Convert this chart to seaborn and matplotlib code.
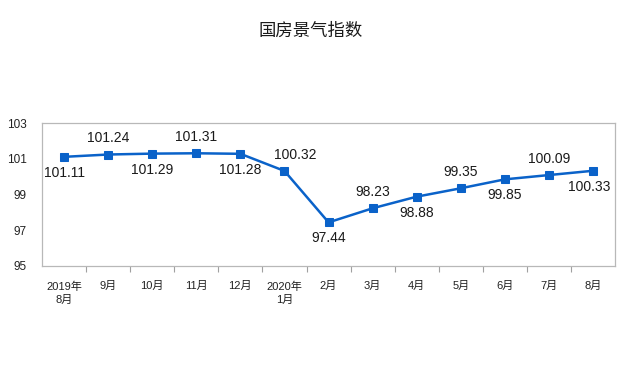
import matplotlib
matplotlib.use("Agg")
import matplotlib.pyplot as plt
import seaborn as sns
import pandas as pd


months = ["2019年\n8月", "9月", "10月", "11月", "12月", "2020年\n1月", "2月",
          "3月", "4月", "5月", "6月", "7月", "8月"]
index_values = [101.11, 101.24, 101.29, 101.31, 101.28, 100.32, 97.44,
                98.23, 98.88, 99.35, 99.85, 100.09, 100.33]
# label above (+1) or below (-1) the point
label_side = [-1, 1, -1, 1, -1, 1, -1, 1, -1, 1, -1, 1, -1]
y_ticks = [95, 97, 99, 101, 103]

sns.set_theme(style="white")
plt.rcParams['font.family'] = ['Liberation Sans', 'Noto Sans CJK SC', 'DejaVu Sans']

df = pd.DataFrame({"month": months, "value": index_values})

fig = plt.figure(figsize=(6.25, 3.73), dpi=100)
ax = fig.add_axes([0.0672, 0.287, 0.917, 0.383])

line_color = "#0a62c9"
sns.lineplot(data=df, x="month", y="value", ax=ax, color=line_color,
             linewidth=1.8, marker="s", markersize=5.5,
             markeredgecolor=line_color, sort=False)

# small horizontal nudges for a few labels (points)
nudge = {5: 8, 12: -3}
for i, (v, side) in enumerate(zip(index_values, label_side)):
    off = 6.5 if side > 0 else -6.5
    ax.annotate(f"{v:.2f}", xy=(i, v), xytext=(nudge.get(i, 0), off),
                textcoords="offset points",
                ha="center", va="bottom" if side > 0 else "top",
                fontsize=10, color="#1a1a1a")

ax.set_xlim(-0.5, len(months) - 0.5)
ax.set_ylim(95, 103)
ax.set_yticks(y_ticks)
ax.set_xticks(range(len(months)))
ax.set_xticklabels(months, fontsize=8, color="#222222", linespacing=1.4)
ax.set_xticks([i + 0.5 for i in range(len(months) - 1)], minor=True)
ax.tick_params(axis="x", which="major", length=0, pad=11)
ax.tick_params(axis="x", which="minor", length=4, width=0.8, color="#a0a0a0", direction="out", bottom=True)
ax.tick_params(axis="y", length=0, labelsize=8.5, labelcolor="#222222", pad=11)
ax.set_xlabel("")
ax.set_ylabel("")

for s in ax.spines.values():
    s.set_color("#b8b8b8")
    s.set_linewidth(0.9)

fig.text(0.497, 0.917, "国房景气指数", ha="center", va="center", fontsize=12.5,
         color="#1a1a1a", family=['Noto Sans CJK SC', 'DejaVu Sans'])

fig.savefig("out.png", dpi=100)
